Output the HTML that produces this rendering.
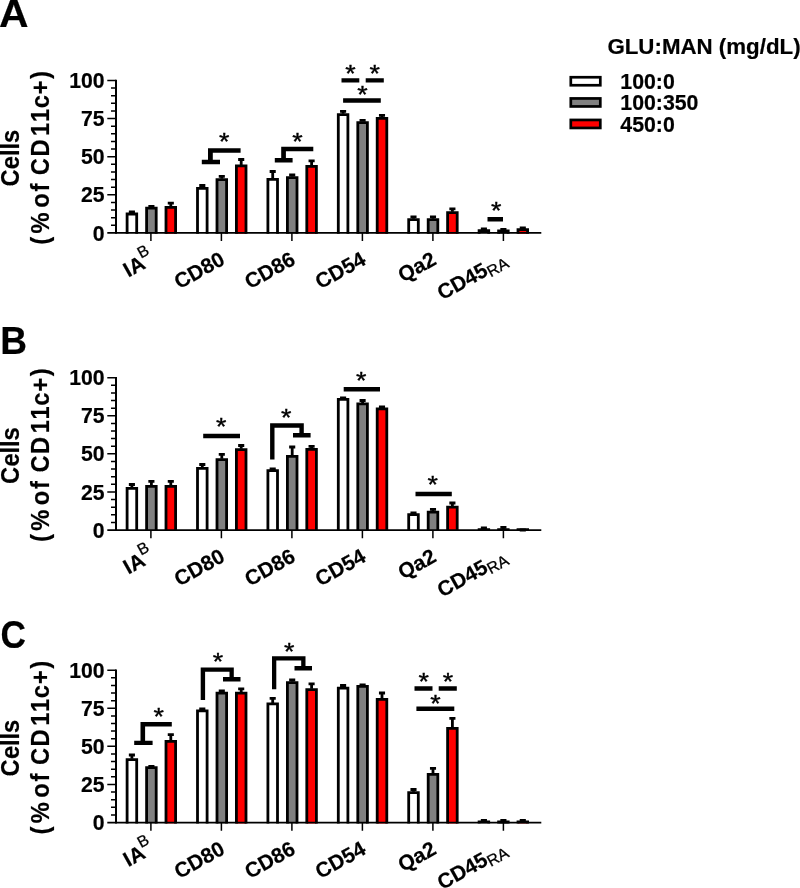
<!DOCTYPE html>
<html lang="en"><head><meta charset="utf-8"><title>Figure</title>
<style>html,body{margin:0;padding:0;background:#fff}body{width:800px;height:888px;overflow:hidden}svg{display:block;will-change:transform}text{font-family:'Liberation Sans', sans-serif;fill:#000}.b{font-weight:700;stroke:#000;stroke-width:.2px;stroke-linejoin:round}</style>
</head><body>
<svg width="800" height="888" viewBox="0 0 800 888">
<rect width="800" height="888" fill="#fff"/>
<g>
<text transform="translate(-1 26.9) scale(1.07 1)" font-size="38.3" class="b">A</text>
<text transform="translate(18.5 250) rotate(-90) scale(0.93 1)" font-size="25.5" class="b" x="68.31 86.96 101.01 108 115.02">Cells</text>
<text transform="translate(48.7 250) rotate(-90) scale(0.93 1)" font-size="25.5" class="b" x="5.71 17.86 40.53 45.35 62.9 71.39 80.46 100.55 122.69 137.64 152.45 167.32 183.95">(% of CD11c+)</text>
<path d="M127.1 233.8V214H136.7V233.8" fill="#ffffff" stroke="#000" stroke-width="2.8"/>
<path d="M131.9 213.1V212M128.85 212H134.95" stroke="#000" stroke-width="2.8" fill="none"/>
<path d="M146.6 233.8V208.2H156.2V233.8" fill="#808080" stroke="#000" stroke-width="2.8"/>
<path d="M151.4 207.3V206.3M148.35 206.3H154.45" stroke="#000" stroke-width="2.8" fill="none"/>
<path d="M166 233.8V207.3H175.6V233.8" fill="#ff0000" stroke="#000" stroke-width="2.8"/>
<path d="M170.8 206.4V203.1M167.75 203.1H173.85" stroke="#000" stroke-width="2.8" fill="none"/>
<path d="M197.5 233.8V188.4H207.1V233.8" fill="#ffffff" stroke="#000" stroke-width="2.8"/>
<path d="M202.3 187.5V185.5M199.25 185.5H205.35" stroke="#000" stroke-width="2.8" fill="none"/>
<path d="M217 233.8V179.6H226.6V233.8" fill="#808080" stroke="#000" stroke-width="2.8"/>
<path d="M221.8 178.7V176.3M218.75 176.3H224.85" stroke="#000" stroke-width="2.8" fill="none"/>
<path d="M236.4 233.8V165.9H246V233.8" fill="#ff0000" stroke="#000" stroke-width="2.8"/>
<path d="M241.2 165V159.5M238.15 159.5H244.25" stroke="#000" stroke-width="2.8" fill="none"/>
<path d="M267.9 233.8V179.4H277.5V233.8" fill="#ffffff" stroke="#000" stroke-width="2.8"/>
<path d="M272.7 178.5V171.5M269.65 171.5H275.75" stroke="#000" stroke-width="2.8" fill="none"/>
<path d="M287.4 233.8V177.6H297V233.8" fill="#808080" stroke="#000" stroke-width="2.8"/>
<path d="M292.2 176.7V175M289.15 175H295.25" stroke="#000" stroke-width="2.8" fill="none"/>
<path d="M306.8 233.8V166.4H316.4V233.8" fill="#ff0000" stroke="#000" stroke-width="2.8"/>
<path d="M311.6 165.5V160.8M308.55 160.8H314.65" stroke="#000" stroke-width="2.8" fill="none"/>
<path d="M338.3 233.8V114.6H347.9V233.8" fill="#ffffff" stroke="#000" stroke-width="2.8"/>
<path d="M343.1 113.7V111.3M340.05 111.3H346.15" stroke="#000" stroke-width="2.8" fill="none"/>
<path d="M357.8 233.8V122.6H367.4V233.8" fill="#808080" stroke="#000" stroke-width="2.8"/>
<path d="M362.6 121.7V120.3M359.55 120.3H365.65" stroke="#000" stroke-width="2.8" fill="none"/>
<path d="M377.2 233.8V118.4H386.8V233.8" fill="#ff0000" stroke="#000" stroke-width="2.8"/>
<path d="M382 117.5V115.3M378.95 115.3H385.05" stroke="#000" stroke-width="2.8" fill="none"/>
<path d="M408.7 233.8V219.6H418.3V233.8" fill="#ffffff" stroke="#000" stroke-width="2.8"/>
<path d="M413.5 218.7V216.8M410.45 216.8H416.55" stroke="#000" stroke-width="2.8" fill="none"/>
<path d="M428.2 233.8V219.6H437.8V233.8" fill="#808080" stroke="#000" stroke-width="2.8"/>
<path d="M433 218.7V216.8M429.95 216.8H436.05" stroke="#000" stroke-width="2.8" fill="none"/>
<path d="M447.6 233.8V212.6H457.2V233.8" fill="#ff0000" stroke="#000" stroke-width="2.8"/>
<path d="M452.4 211.7V208.8M449.35 208.8H455.45" stroke="#000" stroke-width="2.8" fill="none"/>
<path d="M479.1 233.8V230.7H488.7V233.8" fill="#ffffff" stroke="#000" stroke-width="2.8"/>
<path d="M483.9 229.8V228.8M480.85 228.8H486.95" stroke="#000" stroke-width="2.8" fill="none"/>
<path d="M498.6 233.8V231H508.2V233.8" fill="#808080" stroke="#000" stroke-width="2.8"/>
<path d="M503.4 230.1V229.3M500.35 229.3H506.45" stroke="#000" stroke-width="2.8" fill="none"/>
<path d="M518 233.8V229.7H527.6V233.8" fill="#ff0000" stroke="#000" stroke-width="2.8"/>
<path d="M522.8 228.8V227.8M519.75 227.8H525.85" stroke="#000" stroke-width="2.8" fill="none"/>
<path d="M116 79.7V233.8" stroke="#000" stroke-width="2" fill="none"/>
<path d="M107.3 232.9H541.3" stroke="#000" stroke-width="1.75" fill="none"/>
<path d="M111 225.28H116M111 217.65H116M111 210.03H116M111 202.4H116M107.3 194.78H116M111 187.15H116M111 179.53H116M111 171.9H116M111 164.28H116M107.3 156.65H116M111 149.03H116M111 141.4H116M111 133.78H116M111 126.15H116M107.3 118.53H116M111 110.9H116M111 103.28H116M111 95.65H116M111 88.03H116M107.3 80.4H116" stroke="#000" stroke-width="1.5" fill="none"/>
<text x="104.6" y="240.5" font-size="21.2" class="b" text-anchor="end">0</text>
<text x="104.6" y="202.38" font-size="21.2" class="b" text-anchor="end">25</text>
<text x="104.6" y="164.25" font-size="21.2" class="b" text-anchor="end">50</text>
<text x="104.6" y="126.12" font-size="21.2" class="b" text-anchor="end">75</text>
<text x="104.6" y="88" font-size="21.2" class="b" text-anchor="end">100</text>
<path d="M150.9 232.9V241.1M221.4 232.9V241.1M291.9 232.9V241.1M362.4 232.9V241.1M432.9 232.9V241.1M503.4 232.9V241.1" stroke="#000" stroke-width="1.5" fill="none"/>
<text transform="translate(155.45 262.7) rotate(-29)" font-size="21" class="b" text-anchor="end">IA<tspan font-weight="400" stroke-width=".25" font-size="16" dy="-10.5" dx="-0.6">B</tspan></text>
<text transform="translate(226.2 263.5) rotate(-29)" font-size="21" class="b" text-anchor="end">CD80</text>
<text transform="translate(296.7 263.5) rotate(-29)" font-size="21" class="b" text-anchor="end">CD86</text>
<text transform="translate(367.2 263.5) rotate(-29)" font-size="21" class="b" text-anchor="end">CD54</text>
<text transform="translate(437.7 263.5) rotate(-29)" font-size="21" class="b" text-anchor="end">Qa2</text>
<text transform="translate(508.65 263.8) rotate(-29)" font-size="21" class="b" text-anchor="end">CD45<tspan font-weight="400" stroke-width=".25" font-size="16" dy="3.2">RA</tspan></text>
<path d="M201.8 159.8H220V164.2H201.8ZM208 148.2H212.8V164.2H208ZM208 148.2H240.6V152.8H208ZM274.8 158H292.6V162.5H274.8ZM281.2 146.8H285.9V162.5H281.2ZM281.2 146.8H313.3V151.3H281.2ZM341.5 78.2H359.3V82.6H341.5ZM365.7 78.2H383.8V82.6H365.7ZM343.1 98.3H380.8V102.8H343.1ZM487.5 217H503V221.6H487.5Z" fill="#000"/>
<text transform="translate(224.3 137.5) scale(1.05 .95)" y="13.07" font-size="25.5" text-anchor="middle" stroke="#000" stroke-width=".4">*</text>
<text transform="translate(297.5 137.5) scale(1.05 .95)" y="13.07" font-size="25.5" text-anchor="middle" stroke="#000" stroke-width=".4">*</text>
<text transform="translate(350.5 69.4) scale(1.05 .95)" y="13.07" font-size="25.5" text-anchor="middle" stroke="#000" stroke-width=".4">*</text>
<text transform="translate(374.8 69.4) scale(1.05 .95)" y="13.07" font-size="25.5" text-anchor="middle" stroke="#000" stroke-width=".4">*</text>
<text transform="translate(362.5 90.9) scale(1.05 .95)" y="13.07" font-size="25.5" text-anchor="middle" stroke="#000" stroke-width=".4">*</text>
<text transform="translate(496.2 206.4) scale(1.05 .95)" y="13.07" font-size="25.5" text-anchor="middle" stroke="#000" stroke-width=".4">*</text>
</g>
<g>
<text transform="translate(0.3 353.75) scale(0.97 1)" font-size="38.3" class="b">B</text>
<text transform="translate(18.5 547.4) rotate(-90) scale(0.93 1)" font-size="25.5" class="b" x="68.31 86.96 101.01 108 115.02">Cells</text>
<text transform="translate(48.7 547.4) rotate(-90) scale(0.93 1)" font-size="25.5" class="b" x="5.71 17.86 40.53 45.35 62.9 71.39 80.46 100.55 122.69 137.64 152.45 167.32 183.95">(% of CD11c+)</text>
<path d="M127.1 530.9V488.4H136.7V530.9" fill="#ffffff" stroke="#000" stroke-width="2.8"/>
<path d="M131.9 487.5V484.5M128.85 484.5H134.95" stroke="#000" stroke-width="2.8" fill="none"/>
<path d="M146.6 530.9V486.4H156.2V530.9" fill="#808080" stroke="#000" stroke-width="2.8"/>
<path d="M151.4 485.5V481.3M148.35 481.3H154.45" stroke="#000" stroke-width="2.8" fill="none"/>
<path d="M166 530.9V486.4H175.6V530.9" fill="#ff0000" stroke="#000" stroke-width="2.8"/>
<path d="M170.8 485.5V481.3M167.75 481.3H173.85" stroke="#000" stroke-width="2.8" fill="none"/>
<path d="M197.5 530.9V468.4H207.1V530.9" fill="#ffffff" stroke="#000" stroke-width="2.8"/>
<path d="M202.3 467.5V464.5M199.25 464.5H205.35" stroke="#000" stroke-width="2.8" fill="none"/>
<path d="M217 530.9V459.6H226.6V530.9" fill="#808080" stroke="#000" stroke-width="2.8"/>
<path d="M221.8 458.7V454.3M218.75 454.3H224.85" stroke="#000" stroke-width="2.8" fill="none"/>
<path d="M236.4 530.9V449.6H246V530.9" fill="#ff0000" stroke="#000" stroke-width="2.8"/>
<path d="M241.2 448.7V445.5M238.15 445.5H244.25" stroke="#000" stroke-width="2.8" fill="none"/>
<path d="M267.9 530.9V470.6H277.5V530.9" fill="#ffffff" stroke="#000" stroke-width="2.8"/>
<path d="M272.7 469.7V468.8M269.65 468.8H275.75" stroke="#000" stroke-width="2.8" fill="none"/>
<path d="M287.4 530.9V456.4H297V530.9" fill="#808080" stroke="#000" stroke-width="2.8"/>
<path d="M292.2 455.5V447M289.15 447H295.25" stroke="#000" stroke-width="2.8" fill="none"/>
<path d="M306.8 530.9V449.4H316.4V530.9" fill="#ff0000" stroke="#000" stroke-width="2.8"/>
<path d="M311.6 448.5V446.3M308.55 446.3H314.65" stroke="#000" stroke-width="2.8" fill="none"/>
<path d="M338.3 530.9V399.4H347.9V530.9" fill="#ffffff" stroke="#000" stroke-width="2.8"/>
<path d="M343.1 398.5V397.8M340.05 397.8H346.15" stroke="#000" stroke-width="2.8" fill="none"/>
<path d="M357.8 530.9V403.9H367.4V530.9" fill="#808080" stroke="#000" stroke-width="2.8"/>
<path d="M362.6 403V400.5M359.55 400.5H365.65" stroke="#000" stroke-width="2.8" fill="none"/>
<path d="M377.2 530.9V408.9H386.8V530.9" fill="#ff0000" stroke="#000" stroke-width="2.8"/>
<path d="M382 408V407M378.95 407H385.05" stroke="#000" stroke-width="2.8" fill="none"/>
<path d="M408.7 530.9V514.6H418.3V530.9" fill="#ffffff" stroke="#000" stroke-width="2.8"/>
<path d="M413.5 513.7V513M410.45 513H416.55" stroke="#000" stroke-width="2.8" fill="none"/>
<path d="M428.2 530.9V512.1H437.8V530.9" fill="#808080" stroke="#000" stroke-width="2.8"/>
<path d="M433 511.2V509.3M429.95 509.3H436.05" stroke="#000" stroke-width="2.8" fill="none"/>
<path d="M447.6 530.9V507.1H457.2V530.9" fill="#ff0000" stroke="#000" stroke-width="2.8"/>
<path d="M452.4 506.2V503M449.35 503H455.45" stroke="#000" stroke-width="2.8" fill="none"/>
<path d="M479.1 530.9V529.6H488.7V530.9" fill="#ffffff" stroke="#000" stroke-width="2.8"/>
<path d="M483.9 529.2V527.8M480.85 527.8H486.95" stroke="#000" stroke-width="2.8" fill="none"/>
<path d="M498.6 530.9V529.6H508.2V530.9" fill="#808080" stroke="#000" stroke-width="2.8"/>
<path d="M503.4 529V527.3M500.35 527.3H506.45" stroke="#000" stroke-width="2.8" fill="none"/>
<path d="M518 530.9V529.6H527.6V530.9" fill="#ff0000" stroke="#000" stroke-width="2.8"/>
<path d="M522.8 529.4V530M519.75 530H525.85" stroke="#000" stroke-width="2.8" fill="none"/>
<path d="M116 377V530.9" stroke="#000" stroke-width="2" fill="none"/>
<path d="M107.3 530H541.3" stroke="#000" stroke-width="1.75" fill="none"/>
<path d="M111 522.38H116M111 514.77H116M111 507.15H116M111 499.54H116M107.3 491.93H116M111 484.31H116M111 476.69H116M111 469.08H116M111 461.46H116M107.3 453.85H116M111 446.24H116M111 438.62H116M111 431H116M111 423.39H116M107.3 415.77H116M111 408.16H116M111 400.54H116M111 392.93H116M111 385.31H116M107.3 377.7H116" stroke="#000" stroke-width="1.5" fill="none"/>
<text x="104.6" y="537.6" font-size="21.2" class="b" text-anchor="end">0</text>
<text x="104.6" y="499.53" font-size="21.2" class="b" text-anchor="end">25</text>
<text x="104.6" y="461.45" font-size="21.2" class="b" text-anchor="end">50</text>
<text x="104.6" y="423.38" font-size="21.2" class="b" text-anchor="end">75</text>
<text x="104.6" y="385.3" font-size="21.2" class="b" text-anchor="end">100</text>
<path d="M150.9 530V538.2M221.4 530V538.2M291.9 530V538.2M362.4 530V538.2M432.9 530V538.2M503.4 530V538.2" stroke="#000" stroke-width="1.5" fill="none"/>
<text transform="translate(155.45 559.8) rotate(-29)" font-size="21" class="b" text-anchor="end">IA<tspan font-weight="400" stroke-width=".25" font-size="16" dy="-10.5" dx="-0.6">B</tspan></text>
<text transform="translate(226.2 560.6) rotate(-29)" font-size="21" class="b" text-anchor="end">CD80</text>
<text transform="translate(296.7 560.6) rotate(-29)" font-size="21" class="b" text-anchor="end">CD86</text>
<text transform="translate(367.2 560.6) rotate(-29)" font-size="21" class="b" text-anchor="end">CD54</text>
<text transform="translate(437.7 560.6) rotate(-29)" font-size="21" class="b" text-anchor="end">Qa2</text>
<text transform="translate(508.65 560.9) rotate(-29)" font-size="21" class="b" text-anchor="end">CD45<tspan font-weight="400" stroke-width=".25" font-size="16" dy="3.2">RA</tspan></text>
<path d="M203.2 433.8H240V438.3H203.2ZM270.1 423.3H274.5V459.6H270.1ZM270.1 423.3H303.8V427.8H270.1ZM299.4 423.3H303.8V437.5H299.4ZM293 433H310.6V437.6H293ZM343.7 387H380V391.5H343.7ZM415.5 491.8H451.8V496.3H415.5Z" fill="#000"/>
<text transform="translate(221.3 422.6) scale(1.05 .95)" y="13.07" font-size="25.5" text-anchor="middle" stroke="#000" stroke-width=".4">*</text>
<text transform="translate(286.3 413.4) scale(1.05 .95)" y="13.07" font-size="25.5" text-anchor="middle" stroke="#000" stroke-width=".4">*</text>
<text transform="translate(361.3 376.4) scale(1.05 .95)" y="13.07" font-size="25.5" text-anchor="middle" stroke="#000" stroke-width=".4">*</text>
<text transform="translate(432.6 480.7) scale(1.05 .95)" y="13.07" font-size="25.5" text-anchor="middle" stroke="#000" stroke-width=".4">*</text>
</g>
<g>
<text transform="translate(0.5 648.3) scale(0.92 1)" font-size="38.3" class="b">C</text>
<text transform="translate(18.5 839.9) rotate(-90) scale(0.93 1)" font-size="25.5" class="b" x="68.31 86.96 101.01 108 115.02">Cells</text>
<text transform="translate(48.7 839.9) rotate(-90) scale(0.93 1)" font-size="25.5" class="b" x="5.71 17.86 40.53 45.35 62.9 71.39 80.46 100.55 122.69 137.64 152.45 167.32 183.95">(% of CD11c+)</text>
<path d="M127.1 823.4V759.6H136.7V823.4" fill="#ffffff" stroke="#000" stroke-width="2.8"/>
<path d="M131.9 758.7V755M128.85 755H134.95" stroke="#000" stroke-width="2.8" fill="none"/>
<path d="M146.6 823.4V767.6H156.2V823.4" fill="#808080" stroke="#000" stroke-width="2.8"/>
<path d="M151.4 766.7V766.3M148.35 766.3H154.45" stroke="#000" stroke-width="2.8" fill="none"/>
<path d="M166 823.4V741.4H175.6V823.4" fill="#ff0000" stroke="#000" stroke-width="2.8"/>
<path d="M170.8 740.5V734.6M167.75 734.6H173.85" stroke="#000" stroke-width="2.8" fill="none"/>
<path d="M197.5 823.4V710.9H207.1V823.4" fill="#ffffff" stroke="#000" stroke-width="2.8"/>
<path d="M202.3 710V708.8M199.25 708.8H205.35" stroke="#000" stroke-width="2.8" fill="none"/>
<path d="M217 823.4V693.1H226.6V823.4" fill="#808080" stroke="#000" stroke-width="2.8"/>
<path d="M221.8 692.2V690.8M218.75 690.8H224.85" stroke="#000" stroke-width="2.8" fill="none"/>
<path d="M236.4 823.4V693.1H246V823.4" fill="#ff0000" stroke="#000" stroke-width="2.8"/>
<path d="M241.2 692.2V688.8M238.15 688.8H244.25" stroke="#000" stroke-width="2.8" fill="none"/>
<path d="M267.9 823.4V703.9H277.5V823.4" fill="#ffffff" stroke="#000" stroke-width="2.8"/>
<path d="M272.7 703V698.3M269.65 698.3H275.75" stroke="#000" stroke-width="2.8" fill="none"/>
<path d="M287.4 823.4V682.6H297V823.4" fill="#808080" stroke="#000" stroke-width="2.8"/>
<path d="M292.2 681.7V680M289.15 680H295.25" stroke="#000" stroke-width="2.8" fill="none"/>
<path d="M306.8 823.4V689.6H316.4V823.4" fill="#ff0000" stroke="#000" stroke-width="2.8"/>
<path d="M311.6 688.7V683.8M308.55 683.8H314.65" stroke="#000" stroke-width="2.8" fill="none"/>
<path d="M338.3 823.4V688.1H347.9V823.4" fill="#ffffff" stroke="#000" stroke-width="2.8"/>
<path d="M343.1 687.2V685.5M340.05 685.5H346.15" stroke="#000" stroke-width="2.8" fill="none"/>
<path d="M357.8 823.4V686.4H367.4V823.4" fill="#808080" stroke="#000" stroke-width="2.8"/>
<path d="M362.6 685.5V685M359.55 685H365.65" stroke="#000" stroke-width="2.8" fill="none"/>
<path d="M377.2 823.4V699.4H386.8V823.4" fill="#ff0000" stroke="#000" stroke-width="2.8"/>
<path d="M382 698.5V693M378.95 693H385.05" stroke="#000" stroke-width="2.8" fill="none"/>
<path d="M408.7 823.4V792.6H418.3V823.4" fill="#ffffff" stroke="#000" stroke-width="2.8"/>
<path d="M413.5 791.7V789.5M410.45 789.5H416.55" stroke="#000" stroke-width="2.8" fill="none"/>
<path d="M428.2 823.4V774.4H437.8V823.4" fill="#808080" stroke="#000" stroke-width="2.8"/>
<path d="M433 773.5V768.3M429.95 768.3H436.05" stroke="#000" stroke-width="2.8" fill="none"/>
<path d="M447.6 823.4V728.4H457.2V823.4" fill="#ff0000" stroke="#000" stroke-width="2.8"/>
<path d="M452.4 727.5V718.3M449.35 718.3H455.45" stroke="#000" stroke-width="2.8" fill="none"/>
<path d="M479.1 823.4V821.9H488.7V823.4" fill="#ffffff" stroke="#000" stroke-width="2.8"/>
<path d="M483.9 821V820.3M480.85 820.3H486.95" stroke="#000" stroke-width="2.8" fill="none"/>
<path d="M498.6 823.4V822H508.2V823.4" fill="#808080" stroke="#000" stroke-width="2.8"/>
<path d="M503.4 821.1V820.5M500.35 820.5H506.45" stroke="#000" stroke-width="2.8" fill="none"/>
<path d="M518 823.4V821.9H527.6V823.4" fill="#ff0000" stroke="#000" stroke-width="2.8"/>
<path d="M522.8 821V820.3M519.75 820.3H525.85" stroke="#000" stroke-width="2.8" fill="none"/>
<path d="M116 669.5V823.4" stroke="#000" stroke-width="2" fill="none"/>
<path d="M107.3 822.5H541.3" stroke="#000" stroke-width="1.75" fill="none"/>
<path d="M111 814.88H116M111 807.27H116M111 799.65H116M111 792.04H116M107.3 784.42H116M111 776.81H116M111 769.2H116M111 761.58H116M111 753.97H116M107.3 746.35H116M111 738.74H116M111 731.12H116M111 723.5H116M111 715.89H116M107.3 708.28H116M111 700.66H116M111 693.05H116M111 685.43H116M111 677.82H116M107.3 670.2H116" stroke="#000" stroke-width="1.5" fill="none"/>
<text x="104.6" y="830.1" font-size="21.2" class="b" text-anchor="end">0</text>
<text x="104.6" y="792.02" font-size="21.2" class="b" text-anchor="end">25</text>
<text x="104.6" y="753.95" font-size="21.2" class="b" text-anchor="end">50</text>
<text x="104.6" y="715.88" font-size="21.2" class="b" text-anchor="end">75</text>
<text x="104.6" y="677.8" font-size="21.2" class="b" text-anchor="end">100</text>
<path d="M150.9 822.5V830.7M221.4 822.5V830.7M291.9 822.5V830.7M362.4 822.5V830.7M432.9 822.5V830.7M503.4 822.5V830.7" stroke="#000" stroke-width="1.5" fill="none"/>
<text transform="translate(155.45 852.3) rotate(-29)" font-size="21" class="b" text-anchor="end">IA<tspan font-weight="400" stroke-width=".25" font-size="16" dy="-10.5" dx="-0.6">B</tspan></text>
<text transform="translate(226.2 853.1) rotate(-29)" font-size="21" class="b" text-anchor="end">CD80</text>
<text transform="translate(296.7 853.1) rotate(-29)" font-size="21" class="b" text-anchor="end">CD86</text>
<text transform="translate(367.2 853.1) rotate(-29)" font-size="21" class="b" text-anchor="end">CD54</text>
<text transform="translate(437.7 853.1) rotate(-29)" font-size="21" class="b" text-anchor="end">Qa2</text>
<text transform="translate(508.65 853.4) rotate(-29)" font-size="21" class="b" text-anchor="end">CD45<tspan font-weight="400" stroke-width=".25" font-size="16" dy="3.2">RA</tspan></text>
<path d="M134.2 740.7H152.6V745.1H134.2ZM140.5 722H145.1V745.1H140.5ZM140.5 722H171.8V726.5H140.5ZM200.7 667.5H205.1V700H200.7ZM200.7 667.5H233.8V671.8H200.7ZM229.5 667.5H233.8V681.4H229.5ZM223 677H240.5V681.4H223ZM272 656.2H276.3V689.3H272ZM272 656.2H305.5V660.5H272ZM301.2 656.2H305.5V670.4H301.2ZM294.5 665.9H312V670.4H294.5ZM414.5 686.3H432.5V690.8H414.5ZM438.7 686.3H456.8V690.8H438.7ZM416.4 706.6H454.3V711.1H416.4Z" fill="#000"/>
<text transform="translate(158.8 712.5) scale(1.05 .95)" y="13.07" font-size="25.5" text-anchor="middle" stroke="#000" stroke-width=".4">*</text>
<text transform="translate(218 658) scale(1.05 .95)" y="13.07" font-size="25.5" text-anchor="middle" stroke="#000" stroke-width=".4">*</text>
<text transform="translate(289.3 647.7) scale(1.05 .95)" y="13.07" font-size="25.5" text-anchor="middle" stroke="#000" stroke-width=".4">*</text>
<text transform="translate(423.6 677.5) scale(1.05 .95)" y="13.07" font-size="25.5" text-anchor="middle" stroke="#000" stroke-width=".4">*</text>
<text transform="translate(448 677.5) scale(1.05 .95)" y="13.07" font-size="25.5" text-anchor="middle" stroke="#000" stroke-width=".4">*</text>
<text transform="translate(435.5 699.2) scale(1.05 .95)" y="13.07" font-size="25.5" text-anchor="middle" stroke="#000" stroke-width=".4">*</text>
</g>
<g>
<text x="607.4" y="53.8" font-size="22.3" class="b">GLU:MAN (mg/dL)</text>
<rect x="570.8" y="77.25" width="29.5" height="8.0" fill="#ffffff" stroke="#000" stroke-width="2.7"/>
<rect x="570.8" y="98.45" width="29.5" height="8.0" fill="#808080" stroke="#000" stroke-width="2.7"/>
<rect x="570.8" y="119.95" width="29.5" height="8.0" fill="#ff0000" stroke="#000" stroke-width="2.7"/>
<text x="620.3" y="89.2" font-size="21.3" class="b">100:0</text>
<text x="620.3" y="110.3" font-size="21.3" class="b">100:350</text>
<text x="620.3" y="131.6" font-size="21.3" class="b">450:0</text>
</g>
</svg></body></html>
